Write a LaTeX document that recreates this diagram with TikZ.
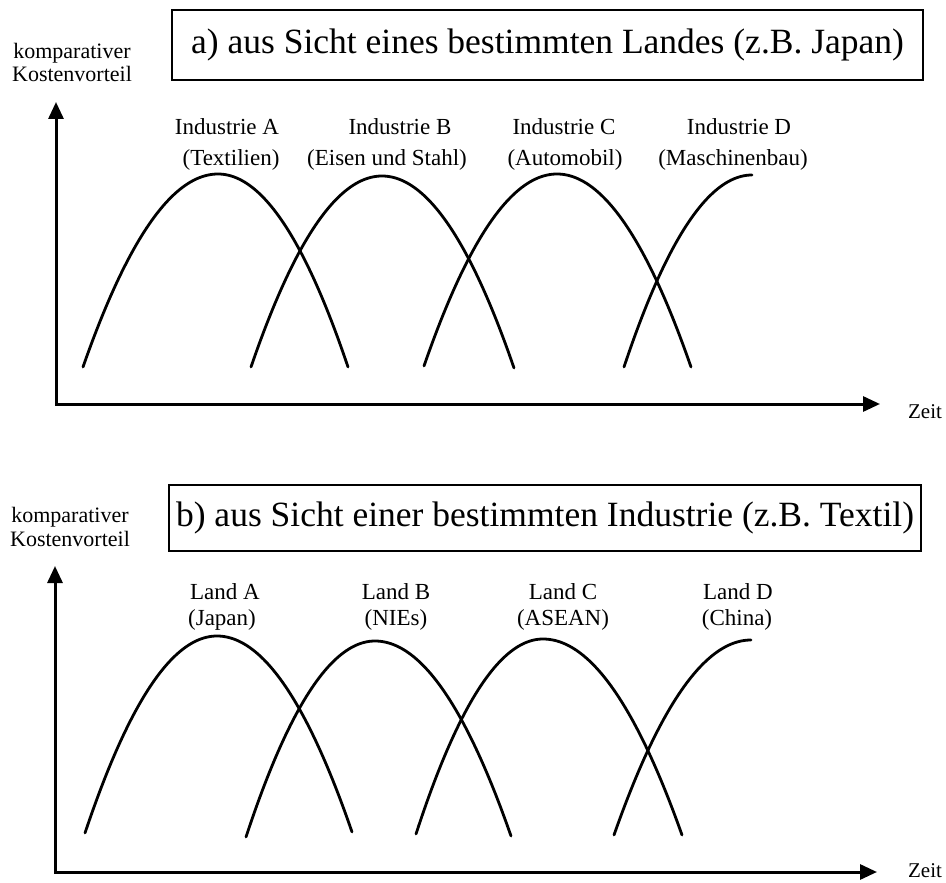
\documentclass[tikz,border=0pt]{standalone}
\usepackage{fontspec}
\setmainfont{Liberation Serif}
\usetikzlibrary{arrows.meta}
% full hump: start (#1,#2), peak (#3,#4), end (#5,#6)
\newcommand{\humpcurve}[6]{%
  \draw[curve] plot[domain=#1:#3,samples=50] (\x,{#4+(#2-#4)*((\x-#3)/(#1-#3))*((\x-#3)/(#1-#3))})
    -- plot[domain=#3:#5,samples=50] (\x,{#4+(#6-#4)*((\x-#3)/(#5-#3))*((\x-#3)/(#5-#3))});}
% rising half: start (#1,#2), end/peak (#3,#4)
\newcommand{\halfcurve}[4]{%
  \draw[curve] plot[domain=#1:#3,samples=50] (\x,{#4+(#2-#4)*((\x-#3)/(#1-#3))*((\x-#3)/(#1-#3))});}
\tikzset{
  curve/.style={line width=2.8pt, line cap=round, line join=round},
  axes/.style={line width=3pt, {Triangle[length=17pt,width=15pt]}-{Triangle[length=17pt,width=15pt]}},
  titlebox/.style={draw, line width=1.8pt, inner sep=0pt, font=\fontsize{35.5}{40}\selectfont},
  lab/.style={inner sep=0pt, font=\fontsize{23}{26}\selectfont},
  ylab/.style={inner sep=0pt, font=\fontsize{22}{24}\selectfont},
  zeit/.style={inner sep=0pt, font=\fontsize{21}{24}\selectfont},
}
\begin{document}
\begin{tikzpicture}[x=1pt,y=-1pt]
\useasboundingbox (0,0) rectangle (946,883);
% ---------------- panel a ----------------
\node[titlebox, minimum width=751pt, minimum height=70pt] (ta) at (547.5,45) {a) aus Sicht eines bestimmten Landes (z.B. Japan)};
\node[ylab] (ka1) at (72,53) {komparativer};
\node[ylab] (ka2) at (72,74) {Kostenvorteil};
\coordinate (ya) at (56,102);
\coordinate (oa) at (56,404);
\coordinate (xa) at (880,404);
\draw[axes] (ya) -- (oa) -- (xa);
\node[zeit] (za) at (925,412) {Zeit};
\node[lab] (ia1) at (227,127) {Industrie A};
\node[lab] (ia2) at (231,160) {(Textilien)};
\node[lab] (ib1) at (400,127) {Industrie B};
\node[lab] (ib2) at (387,160) {(Eisen und Stahl)};
\node[lab] (ic1) at (564,127) {Industrie C};
\node[lab] (ic2) at (565,160) {(Automobil)};
\node[lab] (id1) at (739,127) {Industrie D};
\node[lab] (id2) at (733,160) {(Maschinenbau)};
\humpcurve{83}{367}{218}{174}{348}{367}
\humpcurve{251}{367}{382}{176}{514}{368}
\humpcurve{424}{366}{557}{174}{691}{367}
\halfcurve{624}{367}{752}{175}
% ---------------- panel b ----------------
\node[titlebox, minimum width=752pt, minimum height=66pt] (tb) at (545,518) {b) aus Sicht einer bestimmten Industrie (z.B. Textil)};
\node[ylab] (kb1) at (70,517) {komparativer};
\node[ylab] (kb2) at (70,539) {Kostenvorteil};
\coordinate (yb) at (55,566);
\coordinate (ob) at (55,872);
\coordinate (xb) at (877,872);
\draw[axes] (yb) -- (ob) -- (xb);
\node[zeit] (zb) at (925,871) {Zeit};
\node[lab] (la1) at (225,592) {Land A};
\node[lab] (la2) at (222,620) {(Japan)};
\node[lab] (lb1) at (396,592) {Land B};
\node[lab] (lb2) at (396,620) {(NIEs)};
\node[lab] (lc1) at (563,592) {Land C};
\node[lab] (lc2) at (563,620) {(ASEAN)};
\node[lab] (ld1) at (738,592) {Land D};
\node[lab] (ld2) at (737,620) {(China)};
\humpcurve{85}{833}{217}{636}{352}{832}
\humpcurve{246}{837}{375}{641}{511}{836}
\humpcurve{416}{834}{543}{639}{682}{835}
\halfcurve{614}{835}{751}{640}
\end{tikzpicture}
\end{document}
